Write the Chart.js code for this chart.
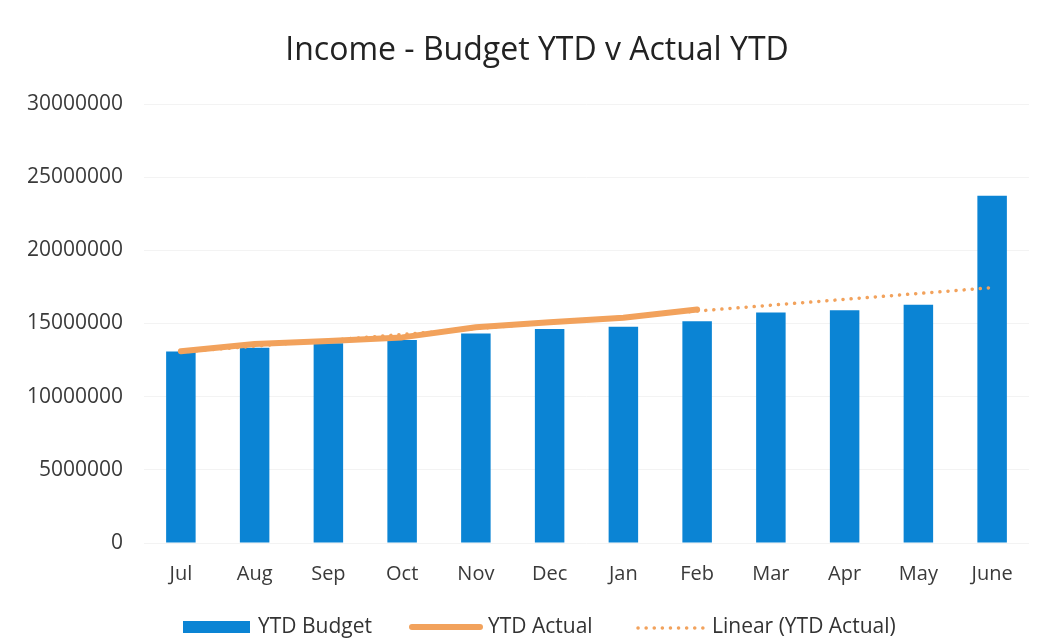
<!DOCTYPE html>
<html>
<head>
<meta charset="utf-8">
<script src="https://cdn.jsdelivr.net/npm/chart.js@4.4.0/dist/chart.umd.min.js"></script>
<style>
  html, body { margin: 0; padding: 0; background: #fff; }
  #wrap { width: 1048px; height: 638px; }
</style>
</head>
<body>
<div id="wrap"><canvas id="c" width="1048" height="638"></canvas></div>
<script>
const months = ['Jul','Aug','Sep','Oct','Nov','Dec','Jan','Feb','Mar','Apr','May','June'];
const ytdBudget = [13080000, 13340000, 13650000, 13870000, 14320000, 14620000, 14770000, 15150000, 15750000, 15900000, 16280000, 23730000];
const ytdActual = [13100000, 13600000, 13800000, 14050000, 14750000, 15080000, 15400000, 15950000];
// trend line end points (Jul .. June)
const trendMonths = ['Jul', 'June'];
const trendValues = [13050000, 17450000];
const yTicks = [0, 5000000, 10000000, 15000000, 20000000, 25000000, 30000000];

const BLUE = '#0b84d4';
const ORANGE = '#f2a25c';
const FONT = "'Open Sans', 'Liberation Sans', sans-serif";

// title on top, legend along the bottom edge
const headAndLegend = {
  id: 'headAndLegend',
  afterDraw(chart) {
    const ctx = chart.ctx;
    ctx.save();
    ctx.textBaseline = 'middle';
    ctx.fillStyle = '#222';
    ctx.font = '32px ' + FONT;
    ctx.textAlign = 'center';
    ctx.fillText('Income - Budget YTD v Actual YTD', 537, 51);

    const y = 627;
    ctx.textAlign = 'left';
    ctx.font = '21px ' + FONT;
    ctx.fillStyle = BLUE;
    ctx.fillRect(183, y - 6, 67, 12);
    ctx.fillStyle = '#333';
    ctx.fillText('YTD Budget', 258, y);

    ctx.strokeStyle = ORANGE;
    ctx.lineWidth = 6;
    ctx.lineCap = 'round';
    ctx.beginPath(); ctx.moveTo(412, y); ctx.lineTo(480, y); ctx.stroke();
    ctx.fillText('YTD Actual', 488, y);

    ctx.lineWidth = 3.5;
    ctx.setLineDash([0.1, 8]);
    ctx.beginPath(); ctx.moveTo(638, y + 1); ctx.lineTo(704, y + 1); ctx.stroke();
    ctx.setLineDash([]);
    ctx.fillText('Linear (YTD Actual)', 712, y);
    ctx.restore();
  }
};

new Chart(document.getElementById('c'), {
  type: 'bar',
  data: {
    labels: months,
    datasets: [
      {
        type: 'line',
        label: 'Linear (YTD Actual)',
        data: trendMonths.map((m, i) => ({ x: m, y: trendValues[i] })),
        borderColor: ORANGE,
        borderWidth: 3.5,
        borderDash: [0.1, 8],
        borderCapStyle: 'round',
        pointRadius: 0,
        fill: false,
        order: 1
      },
      {
        type: 'line',
        label: 'YTD Actual',
        data: ytdActual,
        borderColor: ORANGE,
        borderWidth: 6,
        borderCapStyle: 'round',
        borderJoinStyle: 'round',
        pointRadius: 0,
        tension: 0,
        fill: false,
        order: 2
      },
      {
        label: 'YTD Budget',
        data: ytdBudget,
        backgroundColor: BLUE,
        borderWidth: 0,
        categoryPercentage: 1,
        barPercentage: 0.4,
        order: 3
      }
    ]
  },
  options: {
    responsive: false,
    animation: false,
    layout: { padding: { left: 0, right: 19, top: 104, bottom: 33 } },
    plugins: {
      legend: { display: false },
      tooltip: { enabled: false },
      title: { display: false }
    },
    scales: {
      x: {
        grid: { display: false, drawTicks: false },
        border: { display: false },
        ticks: { color: '#3a3a3a', font: { family: FONT, size: 20 }, padding: 19 }
      },
      y: {
        min: 0,
        max: 30000000,
        afterBuildTicks: s => { s.ticks = yTicks.map(v => ({ value: v })); },
        afterFit: s => { s.width = 144; },
        grid: { color: '#f3f3f3', drawTicks: false },
        border: { display: false },
        ticks: {
          color: '#3a3a3a',
          font: { family: FONT, size: 21 },
          padding: 21,
          callback: v => String(v)
        }
      }
    }
  },
  plugins: [headAndLegend]
});
</script>
</body>
</html>
